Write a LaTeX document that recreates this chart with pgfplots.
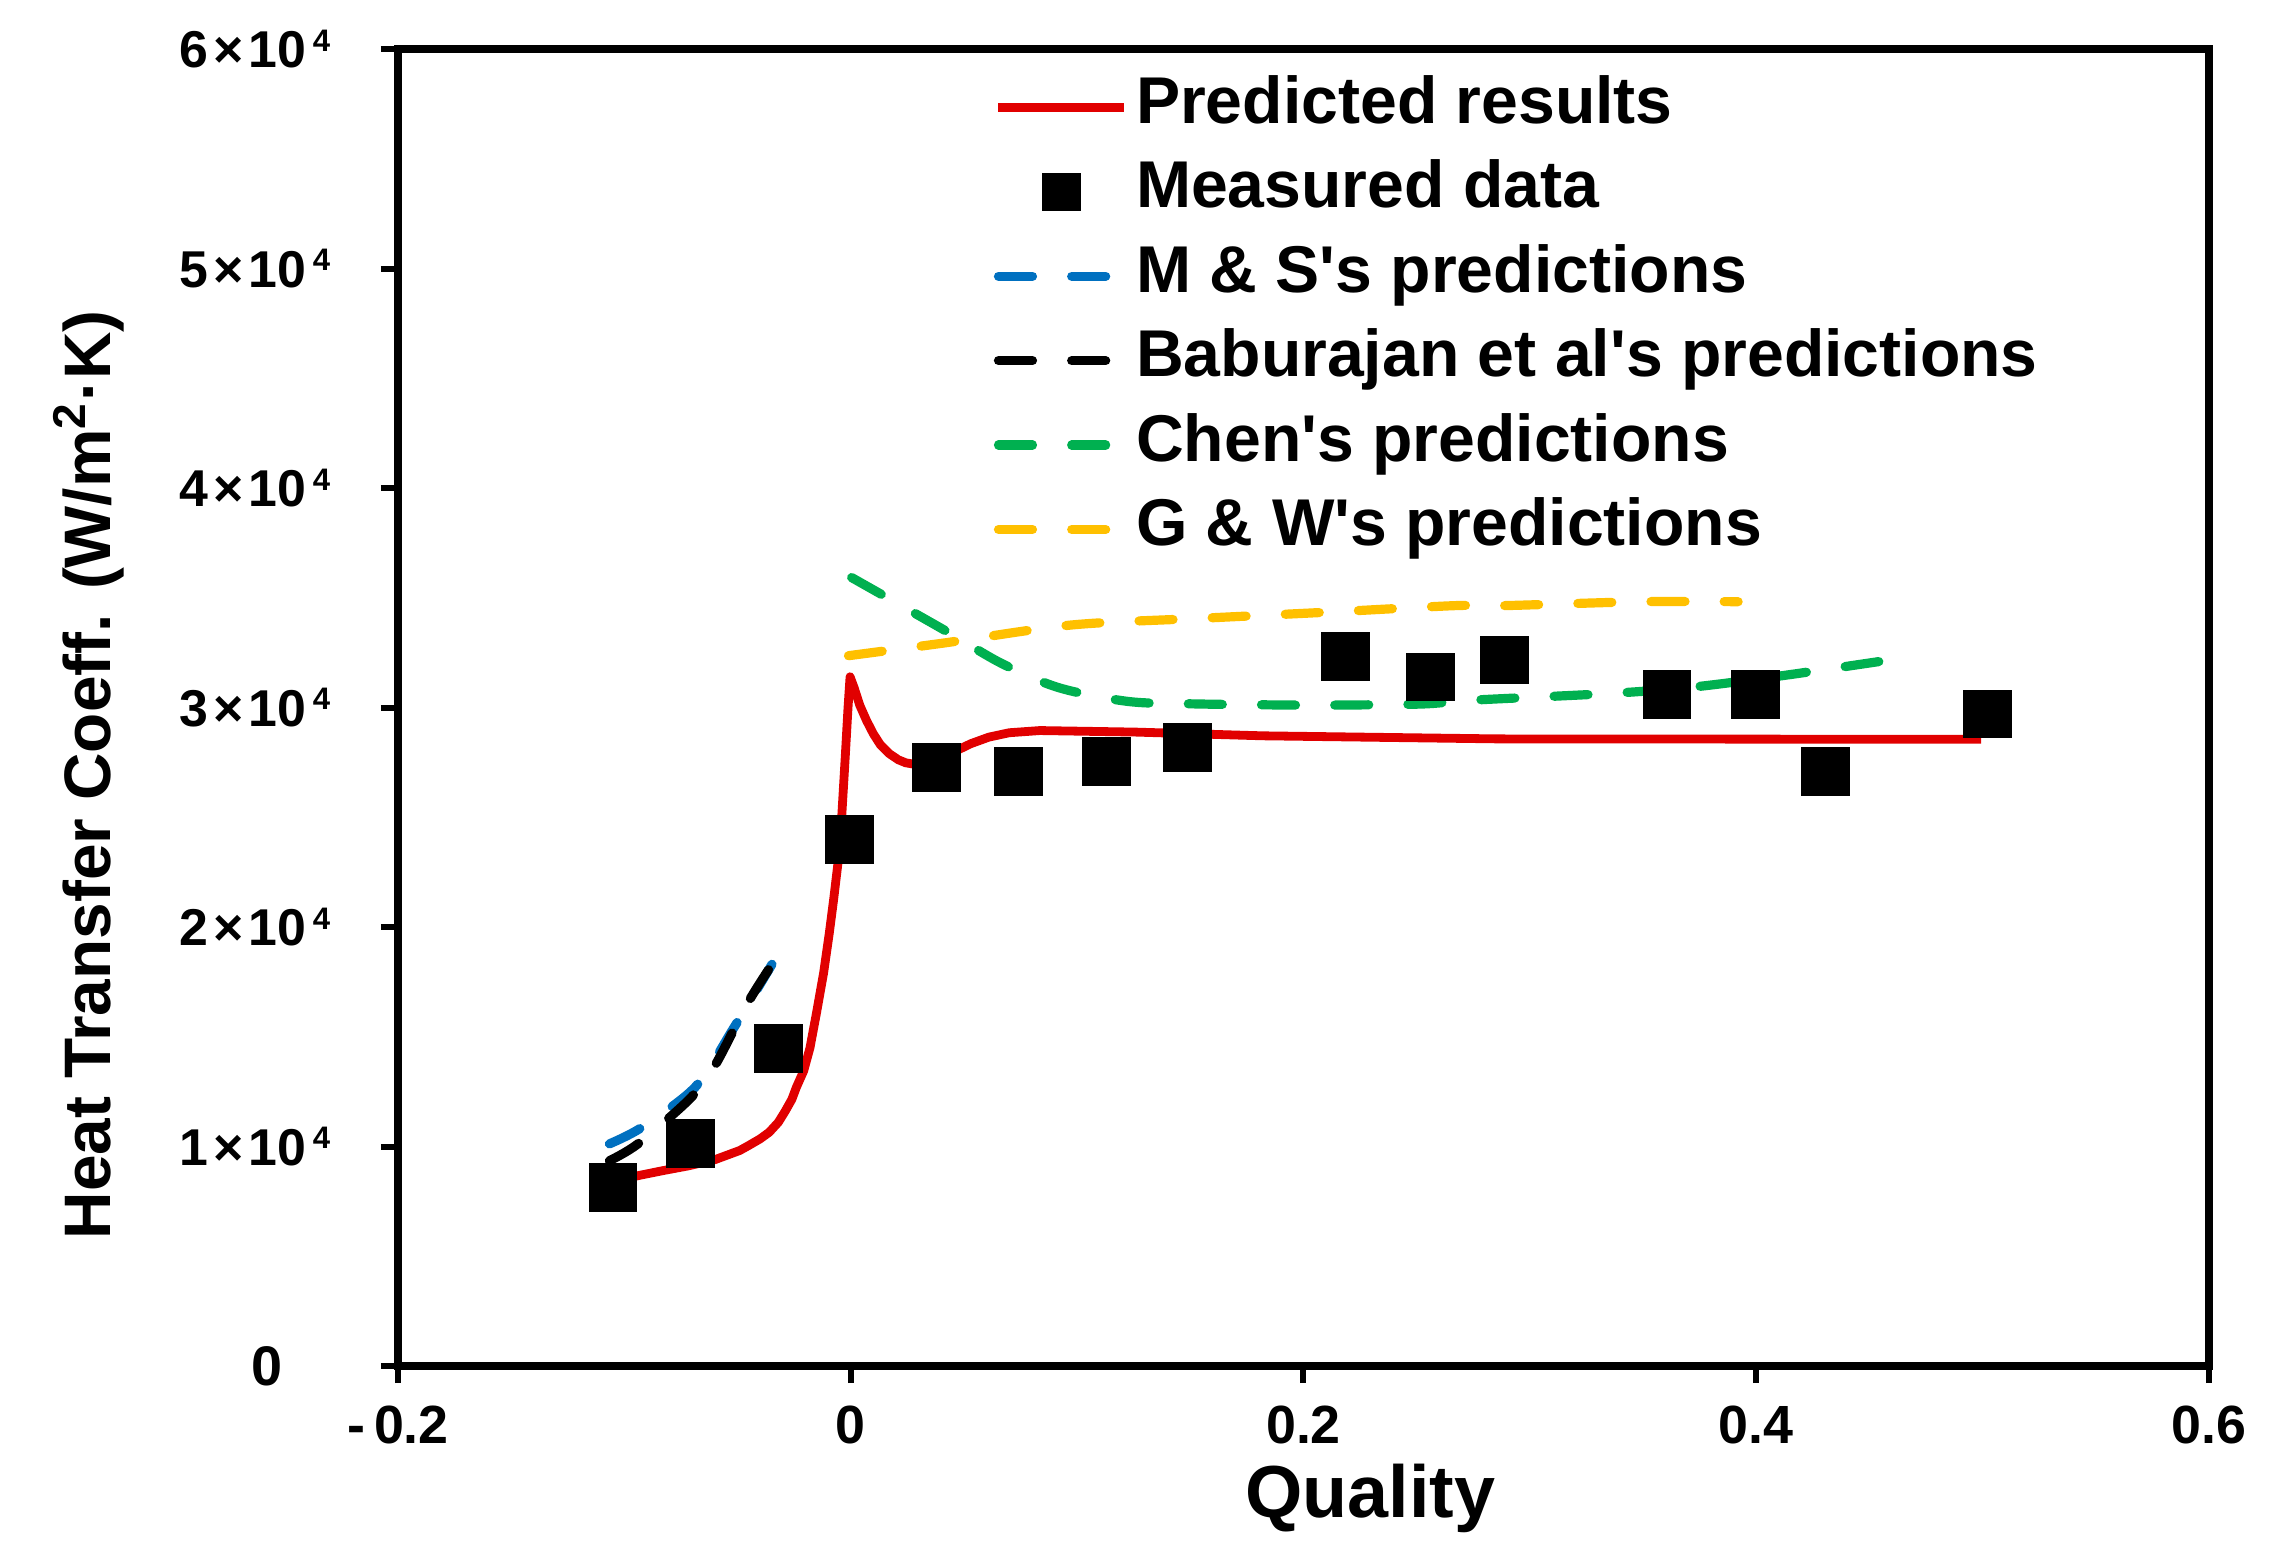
\documentclass[border=0pt]{standalone}
\usepackage{fontspec}
\setmainfont{Liberation Sans}
\usepackage{pgfplots}
\pgfplotsset{compat=1.18}
\definecolor{cred}{RGB}{225,0,0}
\definecolor{cblue}{RGB}{0,112,192}
\definecolor{cgreen}{RGB}{0,176,80}
\definecolor{corange}{RGB}{255,192,0}
\tikzset{dsh/.style={line width=2.3bp, line cap=round, dash pattern=on 8.5bp off 9.8bp}}
\newcommand{\tl}[1]{#1\hspace{1.3bp}×\hspace{1.3bp}10\hspace{1.6bp}\raisebox{4.2bp}{\fontsize{7.8}{7.8}\selectfont 4}}
\begin{document}
\begin{tikzpicture}
\useasboundingbox (-99.5bp,-49.25bp) rectangle (472.25bp,341.5bp);
\begin{axis}[
  at={(0,0)}, anchor=south west,
  width=452.75bp, height=329.25bp, scale only axis,
  xmin=-0.2, xmax=0.6, ymin=0, ymax=60000,
  xtick={-0.2,0,0.2,0.4,0.6},
  xticklabels={-\,0.2,0,0.2,0.4,0.6},
  ytick={0,10000,20000,30000,40000,50000,60000},
  yticklabels={{\fontsize{14}{14}\selectfont 0\rule{12bp}{0pt}},\tl{1},\tl{2},\tl{3},\tl{4},\tl{5},\tl{6}},
  scaled y ticks=false, scaled x ticks=false,
  xtick pos=lower, ytick pos=left,
  tick align=outside, major tick length=4.25bp,
  tick style={line width=1.5bp, black},
  axis line style={line width=2bp},
  xticklabel style={font=\bfseries\fontsize{13.5}{13.5}\selectfont, inner sep=5.5bp},
  yticklabel style={font=\bfseries\fontsize{13}{13}\selectfont, anchor=east, inner sep=12.5bp},
  xlabel={Quality},
  ylabel={Heat Transfer Coeff. (W/m\textsuperscript{2}·K)},
  xlabel style={font=\bfseries\fontsize{18.5}{18.5}\selectfont, at={(axis description cs:0.537,-0.1147)}, anchor=base},
  ylabel style={font=\bfseries\fontsize{16.5}{16.5}\selectfont, at={(axis description cs:-0.171,0.449)}, anchor=center},
  legend image code/.code={\draw[mark repeat=2,mark phase=2,#1] plot coordinates {(0bp,0bp) (15.75bp,0bp) (31.5bp,0bp)};},
  legend style={draw=none, fill=none, at={(axis description cs:0.3286,0.979)}, anchor=north west,
    inner sep=0pt, row sep=6.1bp, column sep=1.75bp,
    nodes={inner sep=0pt, text height=11.5bp, text depth=3.5bp, font=\bfseries\fontsize{16.6}{16.6}\selectfont}},
  legend cell align=left,
  clip=false,
]
\addlegendimage{cred, line width=2.2bp}
\addlegendentry{Predicted results}
\addlegendimage{only marks, mark=square*, mark size=4.6bp, mark options={fill=black, draw=none}}
\addlegendentry{Measured data}
\addlegendimage{cblue, dsh}
\addlegendentry{M \& S\textquotesingle s predictions}
\addlegendimage{black, dsh}
\addlegendentry{Baburajan et al\textquotesingle s predictions}
\addlegendimage{cgreen, dsh}
\addlegendentry{Chen\textquotesingle s predictions}
\addlegendimage{corange, dsh}
\addlegendentry{G \& W\textquotesingle s predictions}

% G & W
\addplot[corange, dsh, smooth, forget plot] coordinates {
(-0.001,32360) (0.0413,32940) (0.0976,33760) (0.154,34060) (0.210,34340) (0.2666,34640) (0.288,34640) (0.349,34820) (0.392,34820)};
% Chen
\addplot[cgreen, dsh, smooth, forget plot] coordinates {
(0.0004,35920) (0.0413,33530) (0.0666,32010) (0.092,30900) (0.123,30270) (0.154,30160) (0.196,30110) (0.2145,30110) (0.2526,30160) (0.2757,30340) (0.337,30650) (0.3737,30950) (0.4136,31480) (0.464,32240) (0.47,32300)};
% M & S
\addplot[cblue, dsh, smooth, forget plot] coordinates {
(-0.1066,10120) (-0.0925,10860) (-0.0686,12720) (-0.0517,15400) (-0.0348,18300)};
% Baburajan
\addplot[black, dsh, smooth, forget plot] coordinates {
(-0.1066,9350) (-0.094,10120) (-0.0714,12140) (-0.0602,13650) (-0.046,16450) (-0.0362,18070)};
% Predicted
\addplot[cred, line width=2.2bp, line join=round, forget plot] coordinates {
(-0.105,8350) (-0.095,8650) (-0.083,8900) (-0.0716,9120) (-0.06,9400) (-0.049,9820) (-0.045,10050) (-0.04,10350) (-0.036,10650) (-0.032,11100) (-0.029,11600) (-0.026,12150) (-0.024,12700) (-0.0208,13440) (-0.018,14500) (-0.0151,16100) (-0.012,17900) (-0.0095,19700) (-0.0075,21300) (-0.0052,23300) (-0.004,25000) (-0.0024,27800) (-0.0012,30000) (-0.0003,31400) (0.0015,30900) (0.004,30100) (0.007,29400) (0.010,28800) (0.0131,28300) (0.017,27900) (0.021,27620) (0.0243,27480) (0.029,27400) (0.035,27450) (0.0413,27700) (0.047,28050) (0.053,28350) (0.061,28650) (0.070,28850) (0.0835,28950) (0.1258,28880) (0.182,28710) (0.2858,28570) (0.4993,28550)};
% Measured
\addplot[only marks, mark=square*, mark size=5.9bp, mark options={fill=black, draw=none}, forget plot] coordinates {
(-0.105,8120) (-0.0708,10120) (-0.032,14460) (-0.0007,24000) (0.038,27250) (0.074,27100) (0.113,27530) (0.1486,28180) (0.2187,32320) (0.256,31390) (0.2889,32160) (0.3606,30600) (0.3995,30600) (0.4307,27100) (0.5023,29700)};
\end{axis}
\end{tikzpicture}
\end{document}
